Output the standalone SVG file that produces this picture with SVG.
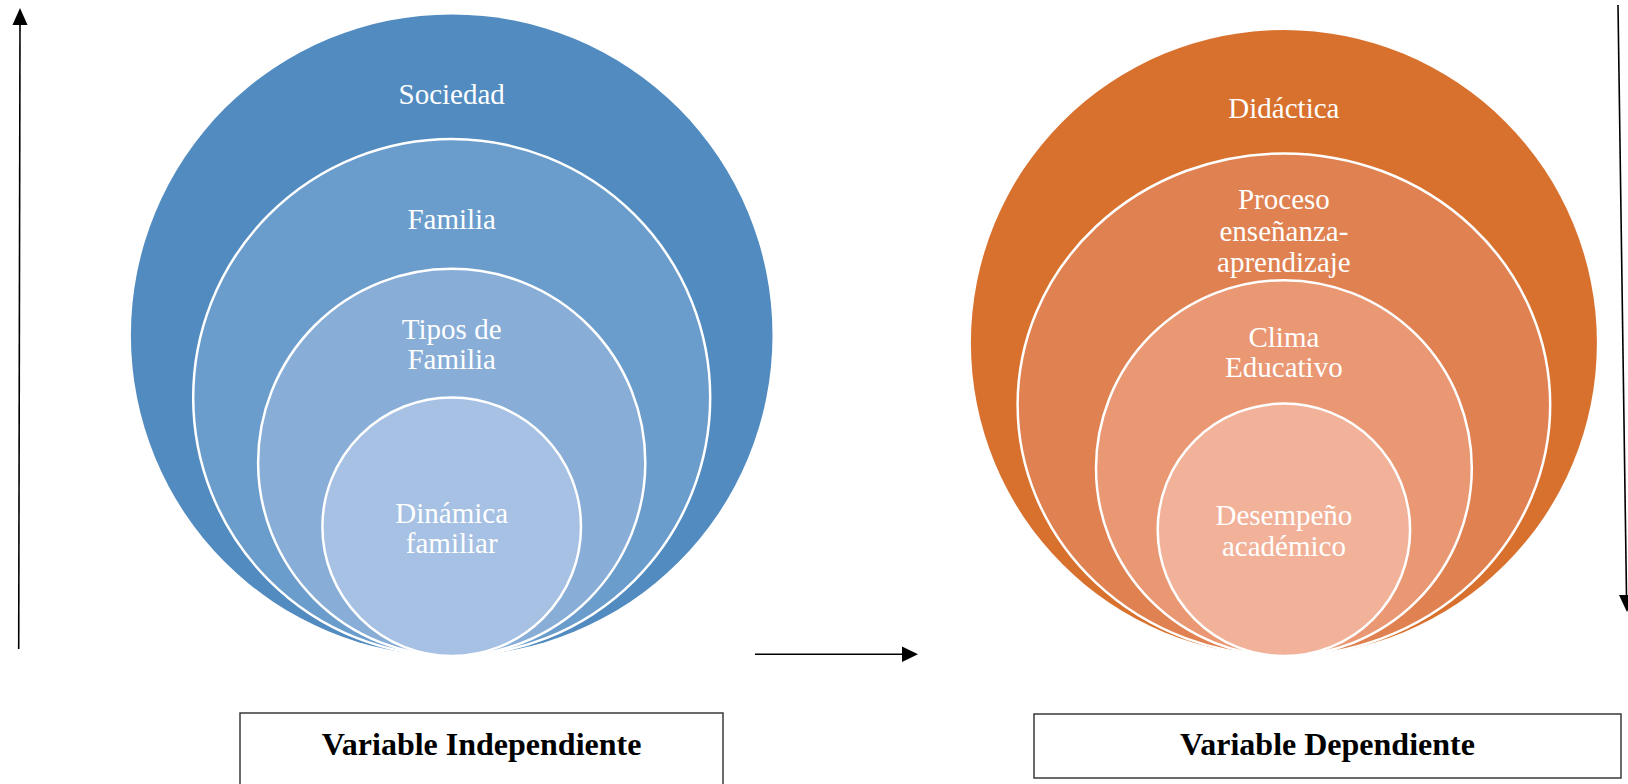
<svg xmlns="http://www.w3.org/2000/svg" width="1628" height="784" viewBox="0 0 1628 784">
<style>
.lbl{font-family:"Liberation Serif","Times New Roman",serif;font-size:29px;fill:#ffffff;text-anchor:middle}
.ring{stroke:#ffffff;stroke-width:2.5}
.box{fill:#ffffff;stroke:#3a3a3a;stroke-width:1.5}
.title{font-family:"Liberation Serif","Times New Roman",serif;font-size:32px;font-weight:bold;fill:#000000;text-anchor:middle}
.conn{stroke:#000000;stroke-width:1.6;fill:none}
</style>
<rect width="1628" height="784" fill="#ffffff"/>
<g id="left-nodes">
  <g id="sociedad">
    <circle cx="451.7" cy="335.2" r="320.8" fill="#518BC0"/>
    <text class="lbl" x="451.7" y="103.5">Sociedad</text>
  </g>
  <g id="familia">
    <circle class="ring" cx="451.7" cy="397.5" r="258.5" fill="#6B9DCC"/>
    <text class="lbl" x="451.7" y="229">Familia</text>
  </g>
  <g id="tipos-familia">
    <circle class="ring" cx="451.7" cy="462.4" r="193.6" fill="#88AED7"/>
    <text class="lbl" x="451.7" y="339">Tipos de</text>
    <text class="lbl" x="451.7" y="369">Familia</text>
  </g>
  <g id="dinamica-familiar">
    <circle class="ring" cx="451.7" cy="526.7" r="129.3" fill="#A6C1E3"/>
    <text class="lbl" x="451.7" y="523">Dinámica</text>
    <text class="lbl" x="451.7" y="553">familiar</text>
  </g>
</g>
<g id="right-nodes">
  <g id="didactica">
    <circle cx="1283.9" cy="343" r="313" fill="#D8712D"/>
    <text class="lbl" x="1283.9" y="118">Didáctica</text>
  </g>
  <g id="proceso">
    <ellipse class="ring" cx="1283.9" cy="404.7" rx="266.3" ry="251.3" fill="#E08151"/>
    <text class="lbl" x="1283.9" y="209">Proceso</text>
    <text class="lbl" x="1283.9" y="240.5">enseñanza-</text>
    <text class="lbl" x="1283.9" y="271.5">aprendizaje</text>
  </g>
  <g id="clima">
    <circle class="ring" cx="1283.9" cy="468.1" r="187.9" fill="#EA9873"/>
    <text class="lbl" x="1283.9" y="346.5">Clima</text>
    <text class="lbl" x="1283.9" y="376.5">Educativo</text>
  </g>
  <g id="desempeno">
    <circle class="ring" cx="1283.9" cy="529.8" r="126.2" fill="#F2B29A"/>
    <text class="lbl" x="1283.9" y="525">Desempeño</text>
    <text class="lbl" x="1283.9" y="556">académico</text>
  </g>
</g>
<g id="label-independiente">
  <rect class="box" x="240" y="713" width="483" height="80"/>
  <text class="title" x="481.5" y="755">Variable Independiente</text>
</g>
<g id="label-dependiente">
  <rect class="box" x="1034" y="714" width="587" height="64"/>
  <text class="title" x="1327.5" y="755">Variable Dependiente</text>
</g>
<g id="connectors">
  <line class="conn" x1="18.7" y1="649" x2="20" y2="24"/>
  <polygon points="20,8 12.5,25 27.5,25" fill="#000"/>
  <line class="conn" x1="755" y1="654.3" x2="903" y2="654.3"/>
  <polygon points="918,654.3 902,646.5 902,662" fill="#000"/>
  <line class="conn" x1="1618" y1="5" x2="1626.5" y2="596"/>
  <polygon points="1627,612 1619,595 1635,595" fill="#000"/>
</g>
</svg>
